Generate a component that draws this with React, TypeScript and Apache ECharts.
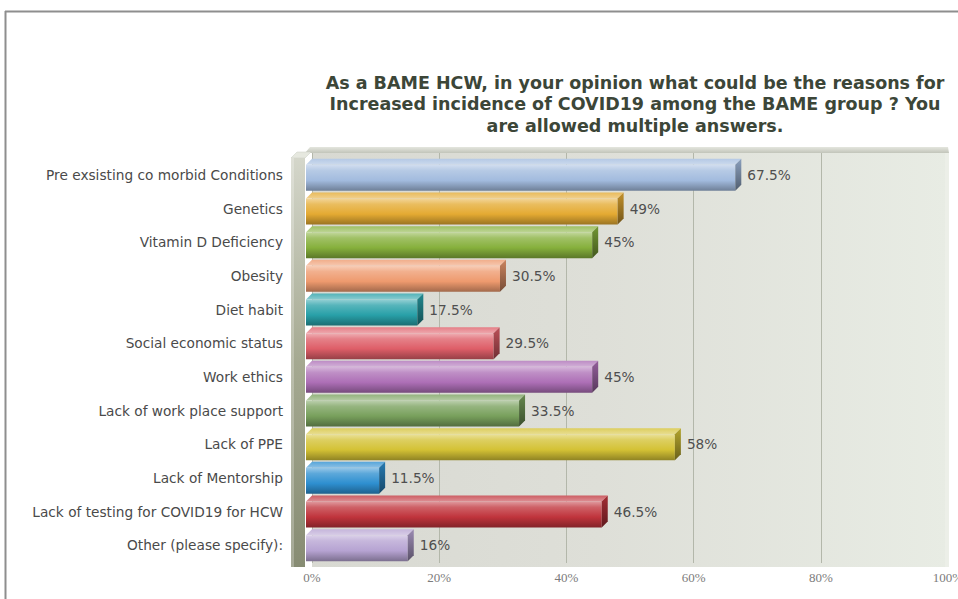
import React, { useEffect, useRef } from "react";
import * as echarts from "echarts";

// Survey answers, top to bottom
const categories: string[] = [
  "Pre exsisting co morbid Conditions",
  "Genetics",
  "Vitamin D Deficiency",
  "Obesity",
  "Diet habit",
  "Social economic status",
  "Work ethics",
  "Lack of work place support",
  "Lack of PPE",
  "Lack of Mentorship",
  "Lack of testing for COVID19 for HCW",
  "Other (please specify):",
];

// Share of respondents (%) choosing each answer
const percentages: number[] = [67.5, 49, 45, 30.5, 17.5, 29.5, 45, 33.5, 58, 11.5, 46.5, 16];

const barColors: string[] = [
  "#a2bbde",
  "#e4aa32",
  "#86b03c",
  "#ee9a6e",
  "#28a0a8",
  "#de5e68",
  "#ad6fb6",
  "#78a05c",
  "#d4c235",
  "#2e8fd0",
  "#c0343c",
  "#b6a3d2",
];

const axisTicks: number[] = [0, 20, 40, 60, 80, 100];

const titleText =
  "As a BAME HCW, in your opinion what could be the reasons for\nIncreased incidence of COVID19 among the BAME group ? You\nare allowed multiple answers.";

// 3D extrusion of the bars and walls
const DEPTH = 6;

// front plane (bars) and back plane (wall, grid lines) layout
const FRONT = { left: 306, right: 16, top: 158, bottom: 37 };
const BACK = { left: 312, right: 10, top: 152, bottom: 36 };

function hexToRgb(hex: string): number[] {
  const h = hex.replace("#", "");
  return [0, 2, 4].map((i) => parseInt(h.slice(i, i + 2), 16));
}

function mix(hex: string, target: string, t: number): string {
  const a = hexToRgb(hex);
  const b = hexToRgb(target);
  const c = a.map((v, i) => Math.round(v + (b[i] - v) * t));
  return `rgb(${c[0]},${c[1]},${c[2]})`;
}

const lighten = (hex: string, t: number) => mix(hex, "#ffffff", t);
const darken = (hex: string, t: number) => mix(hex, "#000000", t);

export default function App() {
  const ref = useRef<HTMLDivElement>(null);

  useEffect(() => {
    document.body.style.margin = "0";
    if (!ref.current) return;
    const chart = echarts.init(ref.current, undefined, { renderer: "svg" });

    const W = 958;
    const H = 599;
    const backX0 = BACK.left;
    const backX1 = W - BACK.right;
    const backY0 = BACK.top;
    const backY1 = H - BACK.bottom;
    const wallL = FRONT.left - 15;
    const wallR = FRONT.left - 1;
    const wallBottom = backY1 + 4;

    const data = percentages.map((v, i) => [v, i]);

    const option: any = {
      animation: false,
      backgroundColor: "#ffffff",
      title: {
        text: titleText,
        left: 630,
        top: 67,
        textAlign: "center",
        textStyle: {
          fontFamily: "DejaVu Sans",
          fontSize: 17.5,
          fontWeight: "bold",
          lineHeight: 21.5,
          color: "#3c4638",
        },
      },
      graphic: [
        // outer frame
        {
          type: "line",
          shape: { x1: 5, y1: 11.5, x2: W, y2: 11.5 },
          style: { stroke: "#8e8e8e", lineWidth: 2 },
          z: 1,
        },
        {
          type: "line",
          shape: { x1: 5.5, y1: 11, x2: 5.5, y2: H },
          style: { stroke: "#8e8e8e", lineWidth: 2 },
          z: 1,
        },
        // back wall
        {
          type: "rect",
          shape: { x: backX0, y: backY0, width: backX1 - backX0 + 1, height: backY1 - backY0 + 4, r: [0, 4, 0, 0] },
          style: {
            fill: new echarts.graphic.LinearGradient(0, 0, 1, 0, [
              { offset: 0, color: "#d8d9d2" },
              { offset: 0.45, color: "#dedfd8" },
              { offset: 1, color: "#e8ece4" },
            ]),
          },
          z: -10,
          silent: true,
        },
        // light right edge of the back wall
        {
          type: "rect",
          shape: { x: backX1 - 3, y: backY0, width: 4, height: backY1 - backY0 + 4 },
          style: { fill: "#ecefe8" },
          z: 5,
          silent: true,
        },
        // top edge of the back wall
        {
          type: "polygon",
          shape: {
            points: [
              [wallR, backY0 + 1],
              [backX0 - 2, backY0 - 5],
              [backX1, backY0 - 5],
              [backX1 + 1, backY0 + 1],
            ],
          },
          style: {
            fill: new echarts.graphic.LinearGradient(0, 0, 0, 1, [
              { offset: 0, color: "#e4e6de" },
              { offset: 1, color: "#c2c5ba" },
            ]),
          },
          z: 6,
          silent: true,
        },
        // left wall top cap
        {
          type: "polygon",
          shape: {
            points: [
              [wallL, FRONT.top],
              [wallR, FRONT.top],
              [wallR + DEPTH, FRONT.top - DEPTH],
              [wallL + DEPTH, FRONT.top - DEPTH],
            ],
          },
          style: { fill: "#e6e8df", stroke: "#c9ccc0", lineWidth: 0.5 },
          z: 20,
          silent: true,
        },
        // left wall front face
        {
          type: "rect",
          shape: { x: wallL, y: FRONT.top, width: wallR - wallL, height: wallBottom - FRONT.top },
          style: {
            fill: new echarts.graphic.LinearGradient(0, 0, 0, 1, [
              { offset: 0, color: "#d4d6ca" },
              { offset: 0.5, color: "#a5a991" },
              { offset: 1, color: "#878c73" },
            ]),
          },
          z: 20,
          silent: true,
        },
        {
          type: "rect",
          shape: { x: wallL, y: FRONT.top, width: 3, height: wallBottom - FRONT.top },
          style: { fill: "rgba(255,255,255,0.25)" },
          z: 21,
          silent: true,
        },
      ],
      grid: [
        { left: FRONT.left, right: FRONT.right, top: FRONT.top, bottom: FRONT.bottom, outerBoundsMode: "none", containLabel: false },
        { left: BACK.left, right: BACK.right, top: BACK.top, bottom: BACK.bottom, outerBoundsMode: "none", containLabel: false },
      ],
      xAxis: [
        {
          gridIndex: 0,
          type: "value",
          min: 0,
          max: 100,
          show: false,
        },
        {
          gridIndex: 1,
          type: "value",
          min: axisTicks[0],
          max: axisTicks[axisTicks.length - 1],
          interval: axisTicks[1] - axisTicks[0],
          axisLine: { show: false },
          axisTick: { show: false },
          splitLine: { show: true, lineStyle: { color: "#b3b7aa", width: 1 } },
          axisLabel: {
            formatter: "{value}%",
            fontFamily: "Liberation Serif",
            fontSize: 13,
            color: "#7c7c7c",
            margin: 8,
            showMinLabel: true,
            showMaxLabel: true,
            hideOverlap: false,
          },
        },
      ],
      yAxis: [
        {
          gridIndex: 0,
          type: "category",
          data: categories,
          inverse: true,
          axisLine: { show: false },
          axisTick: { show: false },
          splitLine: { show: false },
          axisLabel: {
            fontFamily: "DejaVu Sans",
            fontSize: 13.7,
            color: "#4a4a4a",
            margin: 23,
          },
        },
        {
          gridIndex: 1,
          type: "value",
          show: false,
        },
      ],
      series: [
        {
          type: "custom",
          xAxisIndex: 0,
          yAxisIndex: 0,
          encode: { x: 0, y: 1 },
          data,
          z: 10,
          renderItem: (params: any, api: any) => {
            const v = api.value(0) as number;
            const idx = api.value(1) as number;
            const start = api.coord([0, idx]);
            const end = api.coord([v, idx]);
            const base = barColors[idx % barColors.length];
            const x0 = start[0];
            const x1 = end[0];
            const cy = end[1];
            const yTop = cy - 10;
            const yBot = cy + 16;
            return {
              type: "group",
              children: [
                {
                  type: "rect",
                  shape: { x: x0, y: yTop, width: x1 - x0, height: yBot - yTop },
                  style: {
                    fill: new echarts.graphic.LinearGradient(0, 0, 0, 1, [
                      { offset: 0, color: lighten(base, 0.5) },
                      { offset: 0.22, color: lighten(base, 0.22) },
                      { offset: 0.6, color: base },
                      { offset: 1, color: darken(base, 0.32) },
                    ]),
                  },
                },
                {
                  type: "polygon",
                  shape: {
                    points: [
                      [x0, yTop],
                      [x0 + DEPTH, yTop - DEPTH],
                      [x1 + DEPTH, yTop - DEPTH],
                      [x1, yTop],
                    ],
                  },
                  style: {
                    fill: new echarts.graphic.LinearGradient(0, 0, 0, 1, [
                      { offset: 0, color: lighten(base, 0.2) },
                      { offset: 1, color: lighten(base, 0.45) },
                    ]),
                  },
                },
                {
                  type: "polygon",
                  shape: {
                    points: [
                      [x1, yTop],
                      [x1 + DEPTH, yTop - DEPTH],
                      [x1 + DEPTH, yBot - DEPTH],
                      [x1, yBot],
                    ],
                  },
                  style: {
                    fill: new echarts.graphic.LinearGradient(0, 0, 0, 1, [
                      { offset: 0, color: darken(base, 0.15) },
                      { offset: 1, color: darken(base, 0.5) },
                    ]),
                  },
                },
                {
                  type: "text",
                  style: {
                    text: `${v}%`,
                    x: x1 + DEPTH + 6,
                    y: cy,
                    verticalAlign: "middle",
                    align: "left",
                    fontFamily: "DejaVu Sans",
                    fontSize: 13.7,
                    fill: "#4f4f4f",
                  },
                },
              ],
            };
          },
        },
      ],
    };

    chart.setOption(option);
    return () => chart.dispose();
  }, []);

  return <div ref={ref} style={{ width: 958, height: 599 }} />;
}
